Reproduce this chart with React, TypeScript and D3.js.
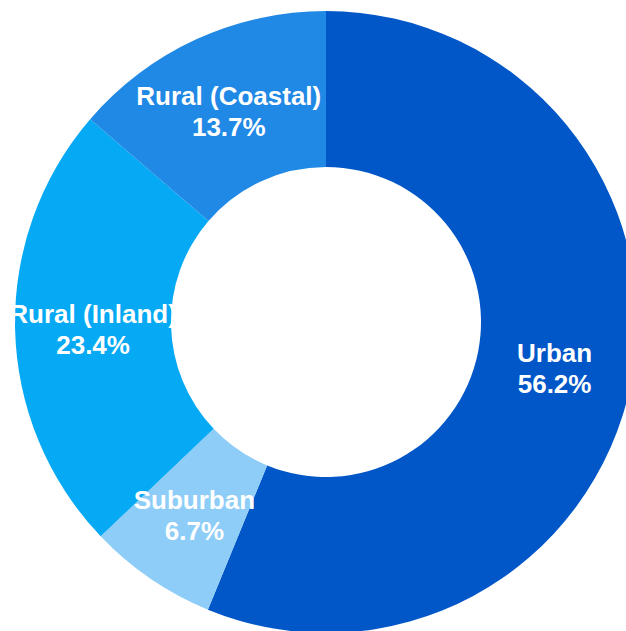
import React from "react";
import * as d3 from "d3";

const categories = ["Urban", "Suburban", "Rural (Inland)", "Rural (Coastal)"];
const values = [56.2, 6.7, 23.4, 13.7];
const colors = ["#0156c8", "#8dcdf8", "#05a9f4", "#2088e5"];

const W = 626;
const H = 631;
const cx = 326;
const cy = 322;
const outerR = 311;
const innerR = 155;

export default function App() {
  const data = categories.map((c, i) => ({ name: c, value: values[i], color: colors[i] }));
  const pie = d3.pie<any>().value((d) => d.value).sort(null);
  const arcs = pie(data);
  const arc = d3.arc<any>().innerRadius(innerR).outerRadius(outerR);
  return (
    <svg width={W} height={H} style={{ position: "absolute", left: 0, top: 0 }}>
      <rect width={W} height={H} fill="#ffffff" />
      <g transform={`translate(${cx},${cy})`}>
        {arcs.map((a, i) => (
          <path key={i} d={arc(a) as string} fill={a.data.color} />
        ))}
        {arcs.map((a, i) => {
          const [x, y] = arc.centroid(a);
          return (
            <text
              key={"t" + i}
              x={x}
              y={y}
              textAnchor="middle"
              fill="#ffffff"
              fontFamily="Liberation Sans, Arial, sans-serif"
              fontWeight="bold"
              fontSize={26}
            >
              <tspan x={x} dy={-5}>{a.data.name}</tspan>
              <tspan x={x} dy={31}>{a.data.value.toFixed(1)}%</tspan>
            </text>
          );
        })}
      </g>
    </svg>
  );
}
